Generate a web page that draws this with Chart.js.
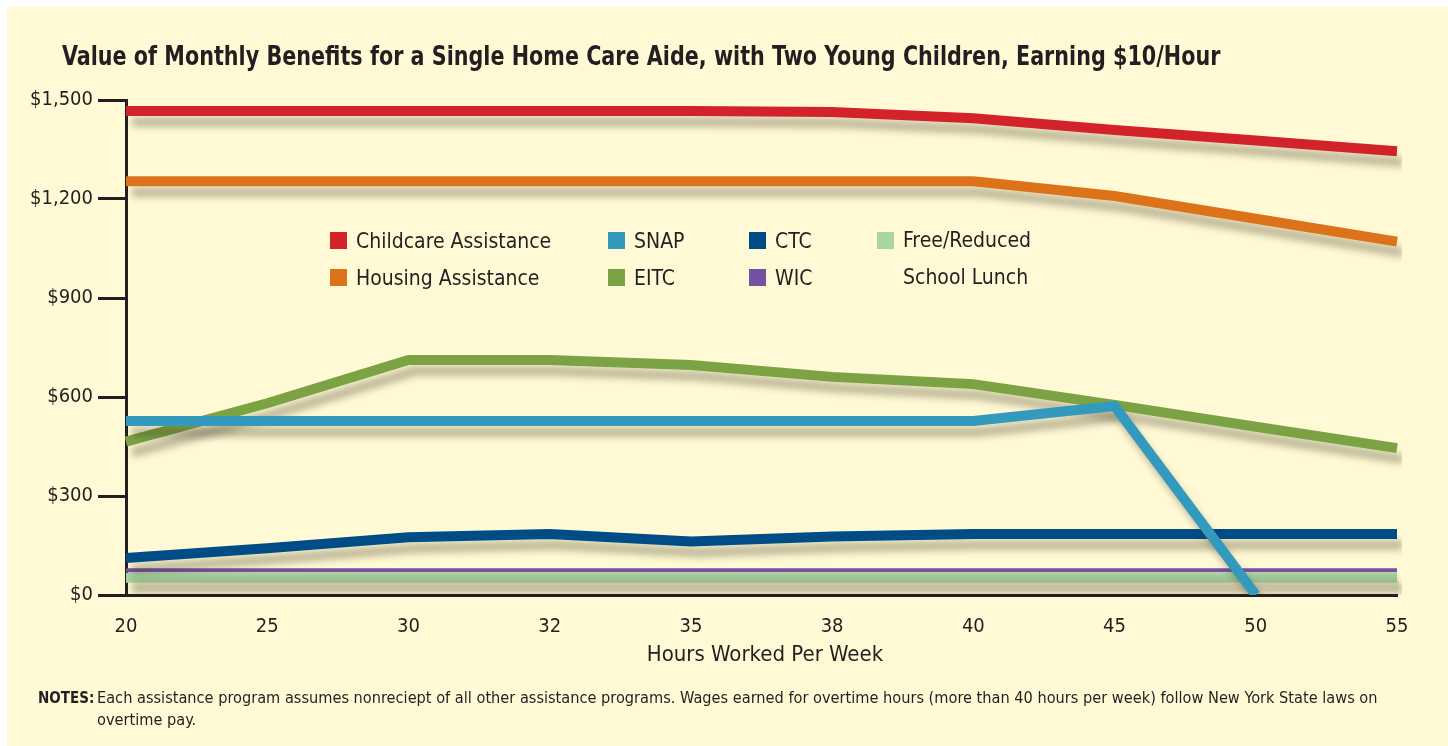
<!DOCTYPE html>
<html>
<head>
<meta charset="utf-8">
<script src="https://cdn.jsdelivr.net/npm/chart.js@4"></script>
<style>
  body { margin: 0; width: 1448px; height: 746px; overflow: hidden; position: relative; background: #fff;
         font-family: 'Liberation Sans Narrow', 'Arial Narrow', 'DejaVu Sans Condensed', sans-serif; color: #231f20; }
  .panel { position: absolute; left: 7px; top: 7px; width: 1441px; height: 739px; background: #fffad5; }
  #chart { position: absolute; left: 0; top: 0; }
  .title { position: absolute; left: 62px; top: 40px; font-size: 27px; font-weight: bold; white-space: nowrap;
           transform: scaleX(0.853); transform-origin: 0 0; }
  .axis-title { position: absolute; left: 0; width: 1530px; top: 641px; text-align: center; font-size: 22px; }
  .notes { position: absolute; left: 38px; top: 687px; font-size: 16.2px; line-height: 22px; white-space: nowrap; }
  .notes b { display: inline-block; width: 59px; font-size: 15px; }
  .notes span { padding-left: 59px; }
  #legend { position: absolute; left: 330px; top: 226px; display: grid; grid-template-columns: 278px 141px 128px 200px;
            grid-template-rows: 37px 37px; grid-auto-flow: column; font-size: 21px; }
  .item { display: flex; align-items: flex-start; line-height: 30px; white-space: pre-line; }
  .item i { width: 17px; height: 17px; margin: 6px 9px 0 0; flex: none; }
  .item.tall { grid-row: span 2; line-height: 37px; margin-top: -4px; }
  .item.tall i { margin-top: 10px; }
</style>
</head>
<body>
<div class="panel"></div>
<canvas id="chart" width="1448" height="746"></canvas>
<div class="title">Value of Monthly Benefits for a Single Home Care Aide, with Two Young Children, Earning $10/Hour</div>
<div id="legend"></div>
<div class="axis-title">Hours Worked Per Week</div>
<div class="notes"><b>NOTES:</b>Each assistance program assumes nonreciept of all other assistance programs. Wages earned for overtime hours (more than 40 hours per week) follow New York State laws on<br><span>overtime pay.</span></div>
<script>
// hours worked per week (x categories)
const hours = ['20', '25', '30', '32', '35', '38', '40', '45', '50', '55'];

// monthly benefit values in dollars
const childcare = [1467, 1467, 1467, 1467, 1467, 1464, 1445, 1409, 1377, 1345];
const housing = [1254, 1254, 1254, 1254, 1254, 1254, 1254, 1209, 1140, 1071];
const snap = [527, 527, 527, 527, 527, 527, 527, 573, 0, null];
const eitc = [465, 581, 712, 712, 697, 661, 639, 576, 510, 445];
const ctc = [112, 142, 175, 185, 162, 177, 185, 185, 185, 185];
const wic = [75, 75, 75, 75, 75, 75, 75, 75, 75, 75];
const lunch = [52, 52, 52, 52, 52, 52, 52, 52, 52, 52];

const yTicks = [0, 300, 600, 900, 1200, 1500];

const ink = '#231f20';
const fontFamily = "'Liberation Sans Narrow', 'Arial Narrow', 'DejaVu Sans Condensed', sans-serif";

// legend order as in the picture (two rows, filled column by column)
const series = [
  { label: 'Childcare Assistance', data: childcare, color: '#d2232a', width: 10, order: 3 },
  { label: 'Housing Assistance', data: housing, color: '#dc731a', width: 10, order: 4 },
  { label: 'SNAP', data: snap, color: '#3399bd', width: 10, order: 0 },
  { label: 'EITC', data: eitc, color: '#7ba344', width: 10, order: 1 },
  { label: 'CTC', data: ctc, color: '#004c87', width: 10, order: 2 },
  { label: 'WIC', data: wic, color: '#7552a1', width: 4, order: 5 },
  { label: 'Free/Reduced\nSchool Lunch', data: lunch, color: '#a8d5a0', width: 10, order: 6 }
];

// soft drop shadow under every line
const lineShadow = {
  id: 'lineShadow',
  beforeDatasetDraw(chart) {
    const c = chart.ctx;
    c.save();
    c.shadowColor = 'rgba(60, 50, 30, 0.32)';
    c.shadowBlur = 7;
    c.shadowOffsetX = 6;
    c.shadowOffsetY = 11;
  },
  afterDatasetDraw(chart) {
    chart.ctx.restore();
  }
};

const chart = new Chart(document.getElementById('chart').getContext('2d'), {
  type: 'line',
  data: {
    labels: hours,
    datasets: series.map(s => ({
      label: s.label,
      data: s.data,
      borderColor: s.color,
      backgroundColor: s.color,
      borderWidth: s.width,
      borderCapStyle: 'butt',
      borderJoinStyle: 'miter',
      pointRadius: 0,
      tension: 0,
      fill: false,
      order: s.order
    }))
  },
  options: {
    responsive: false,
    animation: false,
    layout: { padding: { left: 18, right: 51, top: 100, bottom: 0 } },
    plugins: { legend: { display: false }, tooltip: { enabled: false } },
    scales: {
      x: {
        grid: { display: false },
        border: { display: true, color: ink, width: 3 },
        ticks: { color: ink, font: { family: fontFamily, size: 20 }, padding: 12, maxRotation: 0, autoSkip: false },
        afterFit(scale) { scale.height = 151; }
      },
      y: {
        min: 0,
        max: 1500,
        afterBuildTicks(scale) { scale.ticks = yTicks.map(v => ({ value: v })); },
        ticks: {
          color: ink,
          font: { family: fontFamily, size: 20 },
          padding: 5,
          callback: v => '$' + v.toLocaleString('en-US')
        },
        grid: { drawOnChartArea: false, tickLength: 28, color: ink, lineWidth: 3 },
        border: { color: ink, width: 3 },
        afterFit(scale) { scale.width = 108; }
      }
    }
  },
  plugins: [lineShadow]
});

// legend built from the chart's own datasets
const legend = document.getElementById('legend');
chart.data.datasets.forEach(ds => {
  const item = document.createElement('div');
  item.className = 'item' + (ds.label.includes('\n') ? ' tall' : '');
  const box = document.createElement('i');
  box.style.background = ds.borderColor;
  item.appendChild(box);
  item.appendChild(document.createTextNode(ds.label));
  legend.appendChild(item);
});
</script>
</body>
</html>
